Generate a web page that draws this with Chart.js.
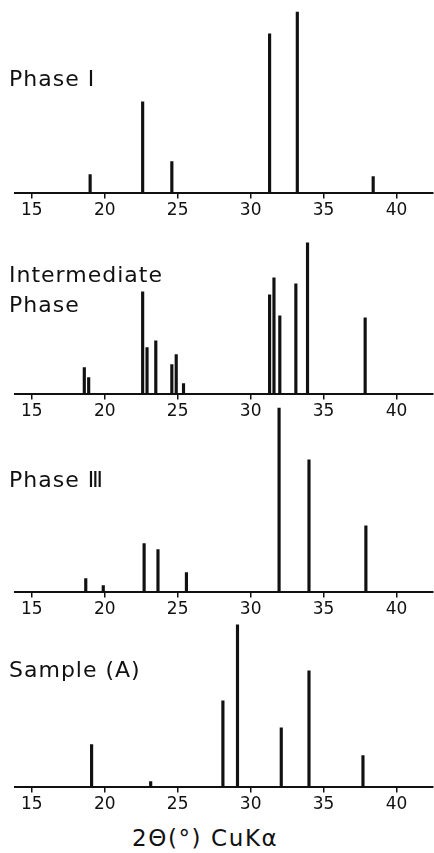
<!DOCTYPE html>
<html>
<head>
<meta charset="utf-8">
<script src="https://cdn.jsdelivr.net/npm/chart.js@4.4.1/dist/chart.umd.min.js"></script>
<style>
    html, body { margin: 0; padding: 0; background: #fff; }
    body { width: 434px; height: 853px; position: relative; overflow: hidden; }
    canvas { position: absolute; left: 0; }
    .lbl {
        position: absolute;
        left: 9px;
        font-family: "DejaVu Sans", sans-serif;
        font-size: 22px;
        line-height: 30px;
        letter-spacing: 1px;
        color: #111;
        white-space: nowrap;
    }
</style>
</head>
<body>
<canvas id="c1" width="434" height="220"></canvas>
<canvas id="c2" width="434" height="220"></canvas>
<canvas id="c3" width="434" height="220"></canvas>
<canvas id="c4" width="434" height="220"></canvas>

<div class="lbl" style="top:64px;">Phase Ⅰ</div>
<div class="lbl" style="top:260px;">Intermediate<br>Phase</div>
<div class="lbl" style="top:465px;">Phase Ⅲ</div>
<div class="lbl" style="top:655px;">Sample (A)</div>
<div class="lbl" id="xtitle" style="top:823px; left:132px; font-size:23px; letter-spacing:1.6px;">2Θ(°) CuKα</div>

<script>
// peak positions (2θ, degrees) and relative intensities
const phase1Pos = [19.0, 22.6, 24.6, 31.3, 33.2, 38.4];
const phase1Int = [18, 91, 31, 159, 181, 16];

const interPos = [18.6, 18.9, 22.6, 22.9, 23.5, 24.6, 24.9, 25.4, 31.3, 31.6, 32.0, 33.1, 33.9, 37.85];
const interInt = [26, 16, 102, 46, 53, 29, 39, 10, 99, 116, 78, 110, 151, 76];

const phase3Pos = [18.7, 19.9, 22.7, 23.65, 25.6, 31.95, 34.0, 37.9];
const phase3Int = [13, 6, 48, 42, 19, 184, 132, 66];

const sampleAPos = [19.1, 23.15, 28.1, 29.1, 32.1, 34.0, 37.7];
const sampleAInt = [42, 5, 86, 162, 59, 116, 31];

const tickValues = [15, 20, 25, 30, 35, 40];
const xMin = 13.85;
const xMax = 42.5;
const yMax = 190;

// where each panel's axis line sits on the page
const baselines = [193, 394, 592, 787];

function makePanel(id, positions, intensities, baseline) {
    const canvas = document.getElementById(id);
    const points = positions.map((p, i) => ({ x: p, y: intensities[i] }));

    const chart = new Chart(canvas, {
        type: 'bar',
        data: {
            datasets: [{
                data: points,
                backgroundColor: '#111',
                borderWidth: 0,
                barThickness: 2.5,
                grouped: false
            }]
        },
        options: {
            responsive: false,
            animation: false,
            devicePixelRatio: 1,
            layout: { padding: { left: 15, right: 1, top: 0, bottom: 0 } },
            plugins: {
                legend: { display: false },
                tooltip: { enabled: false }
            },
            scales: {
                x: {
                    type: 'linear',
                    min: xMin,
                    max: xMax,
                    offset: false,
                    afterBuildTicks: function(scale) {
                        scale.ticks = tickValues.map(v => ({ value: v }));
                    },
                    grid: {
                        display: true,
                        offset: false,
                        drawOnChartArea: false,
                        drawTicks: true,
                        tickLength: 6,
                        color: '#111',
                        lineWidth: 1.5
                    },
                    border: { display: true, color: '#111', width: 2 },
                    ticks: {
                        color: '#111',
                        padding: 2,
                        maxRotation: 0,
                        font: { family: 'DejaVu Sans', size: 17 },
                        callback: function(value) { return String(value); }
                    }
                },
                y: {
                    display: false,
                    min: 0,
                    max: yMax
                }
            }
        }
    });

    // line the axis up with the panel position in the figure
    canvas.style.top = (baseline - chart.chartArea.bottom) + 'px';
    return chart;
}

makePanel('c1', phase1Pos, phase1Int, baselines[0]);
makePanel('c2', interPos, interInt, baselines[1]);
makePanel('c3', phase3Pos, phase3Int, baselines[2]);
makePanel('c4', sampleAPos, sampleAInt, baselines[3]);
</script>
</body>
</html>
